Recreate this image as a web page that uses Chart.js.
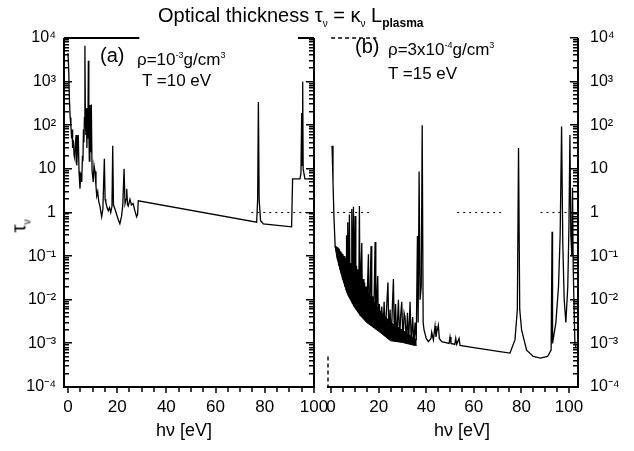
<!DOCTYPE html>
<html>
<head>
<meta charset="utf-8">
<script src="https://cdn.jsdelivr.net/npm/chart.js"></script>
<style>
  body { margin: 0; background: #fff; }
  #page { position: relative; width: 634px; height: 451px; overflow: hidden;
          font-family: "Liberation Sans", Arial, sans-serif; color: #000; }
  #page canvas { position: absolute; top: 0; }
  .lbl { position: absolute; white-space: nowrap; line-height: 1; }
  .lbl sub, .lbl sup { line-height: 0; }
</style>
</head>
<body>
<div id="page">
  <canvas id="chartA" width="340" height="451" style="left:0"></canvas>
  <canvas id="chartB" width="334" height="451" style="left:300px"></canvas>

  <div class="lbl" style="left:158px;top:5px;font-size:20px">Optical thickness τ<sub style="font-size:10px">ν</sub> = κ<sub style="font-size:10px">ν</sub> L<sub style="font-size:12px;font-weight:bold">plasma</sub></div>

  <div class="lbl" style="left:100px;top:45px;font-size:20px">(a)</div>
  <div class="lbl" style="left:137px;top:51px;font-size:17px">ρ=10<sup style="font-size:9px">-3</sup>g/cm<sup style="font-size:9px">3</sup></div>
  <div class="lbl" style="left:142px;top:72px;font-size:17px">T =10 eV</div>

  <div class="lbl" style="left:355px;top:36px;font-size:20px">(b)</div>
  <div class="lbl" style="left:388px;top:41px;font-size:17px">ρ=3x10<sup style="font-size:9px">-4</sup>g/cm<sup style="font-size:9px">3</sup></div>
  <div class="lbl" style="left:388px;top:65px;font-size:17px">T =15 eV</div>

  <div class="lbl" style="left:12px;top:216px;font-size:20px;transform:rotate(-90deg)">τ<sub style="font-size:10px">ν</sub></div>
  <div class="lbl" style="left:134px;top:421px;width:100px;text-align:center;font-size:18px">hν [eV]</div>
  <div class="lbl" style="left:412px;top:421px;width:100px;text-align:center;font-size:18px">hν [eV]</div>
</div>

<script>
// photon energy [eV], optical thickness tau
const panelA = [
  [0.0, 4500], [0.3, 2000], [0.6, 400], [0.9, 150], [1.2, 100], [1.5, 50], [1.7, 80], [1.9, 30],
  [2.2, 45], [2.5, 20], [2.8, 17], [3.0, 35], [3.3, 60], [3.6, 12], [3.9, 30], [4.2, 60],
  [4.5, 8.7], [4.9, 3.5], [5.2, 8], [5.6, 5], [5.9, 20], [6.1, 15], [6.3, 80], [6.5, 40],
  [6.7, 150], [6.9, 6600], [7.1, 120], [7.3, 60], [7.5, 250], [7.7, 30], [7.9, 150], [8.1, 50],
  [8.3, 3000], [8.5, 80], [8.7, 15], [8.9, 290], [9.1, 25], [9.3, 120], [9.5, 300], [9.8, 9],
  [10.3, 5], [10.6, 12], [11.0, 8.7], [11.4, 4], [11.7, 2.4], [12.1, 3], [12.5, 1.8], [13.0, 1.4],
  [13.4, 1.0], [13.7, 0.8], [14.2, 1.2], [14.8, 17], [15.1, 2], [15.4, 1.7], [15.9, 1.3], [16.4, 1.1],
  [16.9, 1.3], [17.4, 1.0], [17.9, 1.4], [18.2, 34], [18.5, 1.5], [19.1, 1.2], [19.8, 0.9], [20.4, 0.7],
  [21.1, 0.55], [21.8, 0.83], [22.3, 1.5], [22.8, 10], [23.2, 1.6], [23.6, 2], [23.9, 3.5], [24.2, 1.5],
  [24.5, 1.4], [25.2, 2.0], [25.8, 1.5], [26.5, 1.6], [27.2, 1.1], [27.9, 0.8], [28.3, 0.9], [28.6, 1.86],
  [76.7, 0.6], [77.1, 2], [77.4, 340], [77.7, 2], [78.3, 0.65], [79.4, 0.55], [90.9, 0.47], [91.3, 5.9],
  [94.3, 5.9], [94.7, 8], [95.0, 190], [95.2, 12], [95.4, 1000], [95.6, 10], [96.3, 5.9], [100, 5.9]
];

const panelB = [
  [0.4, 34], [0.8, 5], [1.2, 0.8], [1.7, 0.17], [2.0, 0.14], [2.3, 0.11], [2.5, 0.16], [2.8, 0.08],
  [3.0, 0.15], [3.3, 0.06], [3.5, 0.14], [3.8, 0.05], [4.0, 0.13], [4.3, 0.04], [4.5, 0.12], [4.8, 0.03],
  [5.0, 0.11], [5.3, 0.025], [5.5, 0.1], [5.8, 0.02], [6.0, 0.09], [6.3, 0.017], [6.5, 0.3], [6.8, 0.015],
  [7.0, 0.6], [7.3, 0.013], [7.5, 0.08], [7.7, 0.9], [8.0, 0.011], [8.3, 0.07], [8.5, 0.01], [8.7, 1.2],
  [9.0, 0.008], [9.4, 1.35], [9.7, 0.007], [10.1, 0.83], [10.4, 0.0065], [10.7, 0.06], [11.0, 0.006], [11.3, 0.05],
  [11.6, 0.005], [11.9, 1.4], [12.2, 0.0045], [12.5, 0.04], [12.9, 0.2], [13.2, 0.004], [13.5, 0.03], [13.8, 0.0038],
  [14.1, 0.025], [14.4, 0.0035], [14.7, 0.02], [15.0, 0.003], [15.3, 0.02], [15.7, 0.11], [16.0, 0.0029], [16.4, 0.015],
  [16.8, 0.17], [17.1, 0.0026], [17.5, 0.012], [17.8, 0.0023], [18.1, 0.012], [18.5, 0.21], [18.8, 0.0021], [19.2, 0.01],
  [19.6, 0.035], [19.9, 0.002], [20.3, 0.008], [20.8, 0.0019], [21.3, 0.007], [21.8, 0.0017], [22.3, 0.009], [22.8, 0.0015],
  [23.3, 0.006], [23.9, 0.025], [24.3, 0.0013], [24.8, 0.006], [25.3, 0.0012], [25.8, 0.008], [26.2, 0.03], [26.6, 0.0012],
  [27.1, 0.008], [27.6, 0.0011], [28.3, 0.01], [28.8, 0.0011], [29.2, 0.004], [29.7, 0.009], [30.2, 0.0011], [30.7, 0.005],
  [31.1, 0.004], [31.6, 0.001], [32.1, 0.005], [32.6, 0.001], [33.2, 0.009], [33.7, 0.001], [34.3, 0.004], [34.8, 0.0009],
  [35.3, 0.003], [35.8, 0.0012], [36.3, 0.29], [36.6, 0.003], [37.0, 8.7], [37.4, 0.01], [37.9, 0.02], [38.3, 100],
  [38.7, 0.003], [39.1, 0.002], [40.0, 0.0013], [40.9, 0.0011], [42.0, 0.0013], [42.3, 0.0018], [43.0, 0.0012], [43.7, 0.0025],
  [44.1, 0.0014], [44.4, 0.0018], [45.1, 0.0026], [45.5, 0.0013], [46.5, 0.0011], [49.6, 0.001], [50.0, 0.0014], [50.4, 0.001],
  [52.0, 0.00095], [52.4, 0.0013], [52.8, 0.00095], [53.8, 0.0013], [54.2, 0.0009], [60, 0.0008], [71, 0.00065], [75.2, 0.0006],
  [77.3, 0.0012], [78.3, 0.006], [78.8, 30], [79.3, 0.006], [80.1, 0.002], [82.2, 0.0007], [85, 0.0005], [88, 0.00046],
  [91, 0.0005], [92.5, 0.0007], [92.9, 0.36], [93.1, 0.001], [94.5, 0.003], [95.6, 0.02], [96.3, 0.3], [96.9, 93],
  [97.4, 0.2], [98, 0.01], [98.7, 0.003], [99.5, 0.02], [100.0, 0.5], [100.4, 60], [100.8, 0.3], [101.2, 0.1],
  [101.5, 3.7], [101.8, 0.05], [102.5, 0.001], [103, 0.0008]
];

// dense unresolved line forest in (b): top and bottom edge of the solid black band
const bandTopB = [[1.7, 0.17], [3, 0.15], [5, 0.1], [7, 0.07], [10, 0.04], [12.5, 0.025], [15, 0.016],
  [20, 0.006], [25, 0.003], [30, 0.002], [35, 0.0013], [36, 0.0012]];
const bandLowB = [[1.7, 0.17], [3, 0.07], [5, 0.028], [7, 0.013], [10, 0.0065], [12.5, 0.0042], [15, 0.003],
  [20, 0.0019], [25, 0.00115], [30, 0.00105], [35, 0.0009], [36, 0.0009]];

// dotted tau = 1 guide
const unityA = [[74.5, 1], [100, 1]];
const unityB = [[0, 1], [16, 1], [16.5, null], [53, 1], [73, 1], [73.5, null], [88, 1], [99, 1]];

const yDecades = [1e-4, 1e-3, 1e-2, 1e-1, 1, 10, 1e2, 1e3, 1e4];
const xTicks = [0, 20, 40, 60, 80, 100];

Chart.defaults.font.family = '"Liberation Sans", Arial, sans-serif';
Chart.defaults.color = '#000';

const supChars = { '-': '⁻', '0': '⁰', '1': '¹', '2': '²', '3': '³', '4': '⁴' };
function decadeLabel(v) {
  const p = Math.round(Math.log10(v));
  if (p === 0) return '1';
  if (p === 1) return '10';
  return '10' + String(p).split('').map(c => supChars[c]).join('');
}

const toXY = pts => pts.map(([x, y]) => ({ x, y }));

// axis frame and inward log ticks, drawn off the chart's own scales
const frame = {
  id: 'frame',
  afterDraw(chart, args, opt) {
    const { ctx, chartArea: a, scales: { x, y } } = chart;
    const sides = opt.sides || [];
    ctx.save();
    ctx.fillStyle = '#000';
    ctx.strokeStyle = '#000';

    // axis lines
    ctx.fillRect(a.left - 1, a.bottom - 1, a.right - a.left + 2, 2);
    for (const side of sides) {
      const px = side === 'left' ? a.left : a.right;
      ctx.fillRect(px - 1, a.top, 2, a.bottom - a.top);
    }
    for (const seg of opt.top || []) {
      const x0 = x.getPixelForValue(seg[0]), x1 = x.getPixelForValue(seg[1]);
      ctx.fillRect(x0, a.top - 1, x1 - x0, 2);
    }

    // log ticks on the y axes, pointing inward
    for (const side of sides) {
      const px = side === 'left' ? a.left : a.right;
      for (let p = -4; p <= 4; p++) {
        for (let m = 1; m < 10; m++) {
          if (p === 4 && m > 1) break;
          const py = Math.round(y.getPixelForValue(m * Math.pow(10, p)));
          const len = m === 1 ? 8 : 5;
          if (side === 'left') ctx.fillRect(px, py - 1, len, 1.5);
          else ctx.fillRect(px - len, py - 1, len, 1.5);
        }
      }
    }
    // x ticks, pointing outward
    for (let v = 0; v <= 100; v += 5) {
      const px = Math.round(x.getPixelForValue(v));
      ctx.fillRect(px - 0.75, a.bottom, 1.5, v % 20 === 0 ? 6 : 5);
    }

    ctx.setLineDash([4, 3]);
    ctx.lineWidth = 1.4;
    ctx.beginPath();
    for (const seg of opt.topDash || []) {
      ctx.moveTo(x.getPixelForValue(seg[0]), a.top); ctx.lineTo(x.getPixelForValue(seg[1]), a.top);
    }
    if (opt.leftDash) {
      ctx.moveTo(a.left, y.getPixelForValue(opt.leftDash[1]));
      ctx.lineTo(a.left, y.getPixelForValue(opt.leftDash[0]));
    }
    ctx.stroke();
    ctx.restore();
  }
};

function makeChart(id, spectrum, unity, extra, cfg) {
  return new Chart(document.getElementById(id), {
    type: 'line',
    data: {
      datasets: [
        { data: toXY(spectrum), borderColor: '#000', borderWidth: 1.3, pointRadius: 0, tension: 0, order: 1 },
        { data: toXY(unity), borderColor: '#000', borderWidth: 1, borderDash: [2, 4], pointRadius: 0, order: 3 },
        ...extra
      ]
    },
    options: {
      responsive: false,
      animation: false,
      layout: { padding: cfg.padding },
      plugins: { legend: { display: false }, tooltip: { enabled: false }, frame: cfg.frame },
      scales: {
        x: {
          type: 'linear', min: cfg.xMin, max: cfg.xMax,
          afterBuildTicks: s => { s.ticks = xTicks.map(v => ({ value: v })); },
          afterFit: s => { s.height = 64; },
          grid: { display: false, drawTicks: false },
          border: { display: false },
          ticks: { font: { size: 17 }, padding: 10, maxRotation: 0, autoSkip: false }
        },
        y: {
          type: 'logarithmic', position: cfg.yPos, min: 1e-4, max: 1e4,
          afterBuildTicks: s => { s.ticks = yDecades.map(v => ({ value: v })); },
          afterFit: s => { s.width = cfg.yWidth; },
          grid: { display: false, drawTicks: false },
          border: { display: false },
          ticks: { font: { size: 16 }, padding: cfg.yPad, callback: v => decadeLabel(v) }
        }
      }
    },
    plugins: [frame]
  });
}

makeChart('chartA', panelA, unityA, [], {
  xMin: -1.6, xMax: 100, yPos: 'left', yWidth: 64, yPad: 8,
  padding: { top: 38, right: 26, bottom: 0, left: 0 },
  frame: { sides: ['left', 'right'], top: [[-1.6, 29], [93.5, 100]] }
});

makeChart('chartB', panelB, unityB, [
  { data: toXY(bandTopB), borderColor: '#000', borderWidth: 1, backgroundColor: '#000',
    fill: '+1', pointRadius: 0, order: 2 },
  { data: toXY(bandLowB), borderColor: '#000', borderWidth: 1, pointRadius: 0, order: 2 }
], {
  xMin: -1.3, xMax: 103.8, yPos: 'right', yWidth: 56, yPad: 12,
  padding: { top: 38, right: 0, bottom: 0, left: 28 },
  frame: { sides: ['right'], top: [], topDash: [[0, 19]], leftDash: [1e-4, 5e-4] }
});
</script>
</body>
</html>
